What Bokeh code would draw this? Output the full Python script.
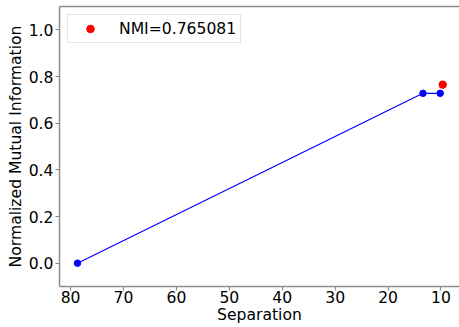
from bokeh.plotting import figure
from bokeh.models import Range1d, FixedTicker, LinearAxis, Legend, LegendItem, PrintfTickFormatter
from bokeh.embed import file_html
from bokeh.resources import INLINE

# data
separation = [78.7, 13.4, 10.15]
nmi_values = [0.0, 0.728, 0.728]
best_separation = [9.68]
best_nmi = [0.765081]
legend_label = "NMI=0.765081"
x_ticks = [10, 20, 30, 40, 50, 60, 70, 80]
y_ticks = [0.0, 0.2, 0.4, 0.6, 0.8, 1.0]

FONT = "DejaVu Sans"
FS = "15.6px"
SPINE = "#8c8c8c"

p = figure(width=459, height=327, output_backend="svg", toolbar_location=None,
           x_range=Range1d(82.1, 6.5), y_range=Range1d(-0.1, 1.1),
           min_border_left=59, min_border_right=0, min_border_top=6, min_border_bottom=41)
p.outline_line_color = None
p.xgrid.grid_line_color = None
p.ygrid.grid_line_color = None
p.background_fill_color = "white"
p.border_fill_color = "white"

p.line(separation, nmi_values, line_color="blue", line_width=1.2)
p.scatter(separation, nmi_values, size=6.5, fill_color="blue", line_color="blue")
red = p.scatter(best_separation, best_nmi, size=7.5, fill_color="red", line_color="red")

for ax in (p.xaxis[0], p.yaxis[0]):
    ax.axis_line_color = SPINE
    ax.axis_line_width = 1.5
    ax.major_tick_line_color = SPINE
    ax.major_tick_line_width = 1.2
    ax.major_tick_out = 4
    ax.major_tick_in = 0
    ax.minor_tick_line_color = None
    ax.major_label_text_font = FONT
    ax.major_label_text_font_size = FS
    ax.major_label_text_color = "black"
    ax.axis_label_text_font = FONT
    ax.axis_label_text_font_size = FS
    ax.axis_label_text_font_style = "normal"
    ax.axis_label_text_color = "black"

p.xaxis.ticker = FixedTicker(ticks=x_ticks)
p.yaxis.ticker = FixedTicker(ticks=y_ticks)
p.yaxis.formatter = PrintfTickFormatter(format="%.1f")
p.xaxis.axis_label = "Separation"
p.yaxis.axis_label = "Normalized Mutual Information"
p.xaxis.major_label_standoff = 0
p.xaxis.axis_label_standoff = 0
p.yaxis.major_label_standoff = 2
p.yaxis.axis_label_standoff = 1

top = LinearAxis(ticker=FixedTicker(ticks=[]), axis_line_color=SPINE, axis_line_width=1.5,
                 major_tick_line_color=None, minor_tick_line_color=None)
p.add_layout(top, "above")

legend = Legend(items=[LegendItem(label=legend_label, renderers=[red])],
                location="top_left", margin=8, padding=4,
                glyph_width=36, glyph_height=19, label_height=19, label_standoff=11,
                label_text_font=FONT, label_text_font_size=FS, label_text_color="black",
                border_line_color="#cccccc", border_line_width=1,
                background_fill_color="white", background_fill_alpha=0.8)
p.add_layout(legend)

open("out.html", "w").write(file_html(p, INLINE))
